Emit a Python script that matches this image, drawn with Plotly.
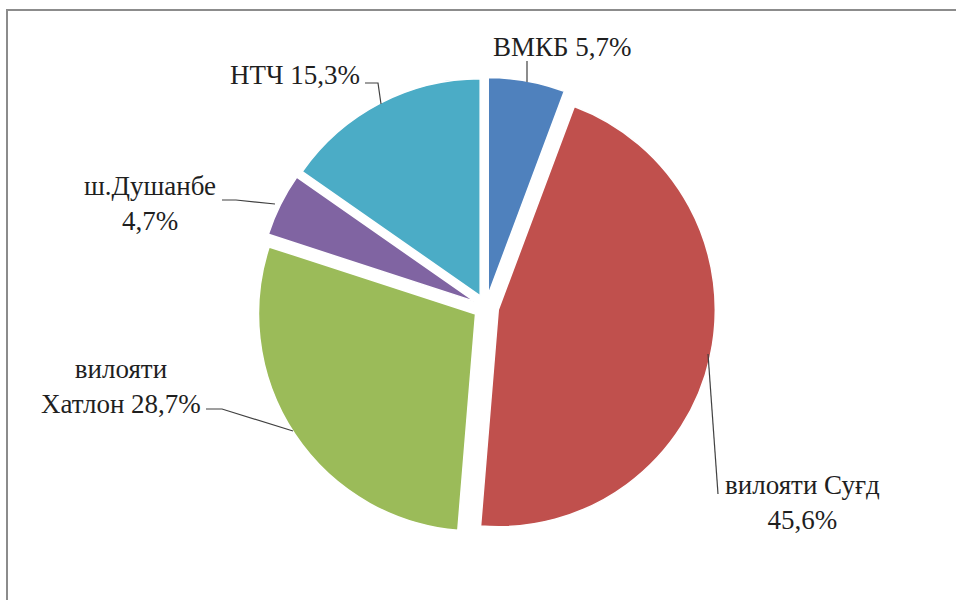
import plotly.graph_objects as go

# ---- data ----
labels = ["ВМКБ", "вилояти Суғд", "вилояти Хатлон", "ш.Душанбе", "НТЧ"]
values = [5.7, 45.6, 28.7, 4.7, 15.3]
label_texts = ["ВМКБ 5,7%", "вилояти Суғд<br>45,6%", "вилояти<br>Хатлон 28,7%",
               "ш.Душанбе<br>4,7%", "НТЧ 15,3%"]
colors = ["#4F81BD", "#C0504D", "#9BBB59", "#8064A2", "#4BACC6"]

W, H = 956, 600


def px(x):
    return x / W


def py(y):
    return 1 - y / H


# label placement (pixel positions of label centres)
label_pos = [(562, 47), (802, 502), (121, 386), (150, 203), (295, 75)]
# leader line polylines (pixel)
leaders = [
    [(527, 61), (527, 82)],
    [(708, 354), (718, 494)],
    [(206, 409), (222, 409), (293, 431)],
    [(222, 200), (236, 200), (275, 204)],
    [(365, 83), (378, 83), (381, 104)],
]

FONT = "Liberation Serif"

fig = go.Figure(go.Pie(
    labels=labels,
    values=values,
    sort=False,
    direction="clockwise",
    rotation=0,
    pull=[0.058] * len(values),
    marker=dict(colors=colors, line=dict(color="white", width=1.5)),
    textinfo="none",
    hoverinfo="label+percent",
    showlegend=False,
    domain=dict(x=[px(256), px(716)], y=[py(536.6), py(77.4)]),
))

annotations = []
for txt, (x, y) in zip(label_texts, label_pos):
    annotations.append(dict(
        text=txt, x=px(x), y=py(y), xref="paper", yref="paper",
        xanchor="center", yanchor="middle", showarrow=False, align="center",
        font=dict(family=FONT, size=27, color="#1f1f1f"),
    ))

shapes = []
for pts in leaders:
    path = "M " + " L ".join(f"{px(a)},{py(b)}" for a, b in pts)
    shapes.append(dict(type="path", xref="paper", yref="paper", path=path,
                       line=dict(color="#404040", width=1.2)))

# outer chart frame (top and left visible)
shapes.append(dict(type="rect", xref="paper", yref="paper",
                   x0=px(7), y0=py(640), x1=px(990), y1=py(10),
                   line=dict(color="#8c8c8c", width=2)))

fig.update_layout(
    width=W, height=H,
    margin=dict(l=0, r=0, t=0, b=0),
    paper_bgcolor="white",
    plot_bgcolor="white",
    font=dict(family=FONT),
    annotations=annotations,
    shapes=shapes,
)

fig.write_html("out.html",
               config={"displayModeBar": False},
               post_script="document.body.style.margin='0';document.body.style.overflow='hidden';")
